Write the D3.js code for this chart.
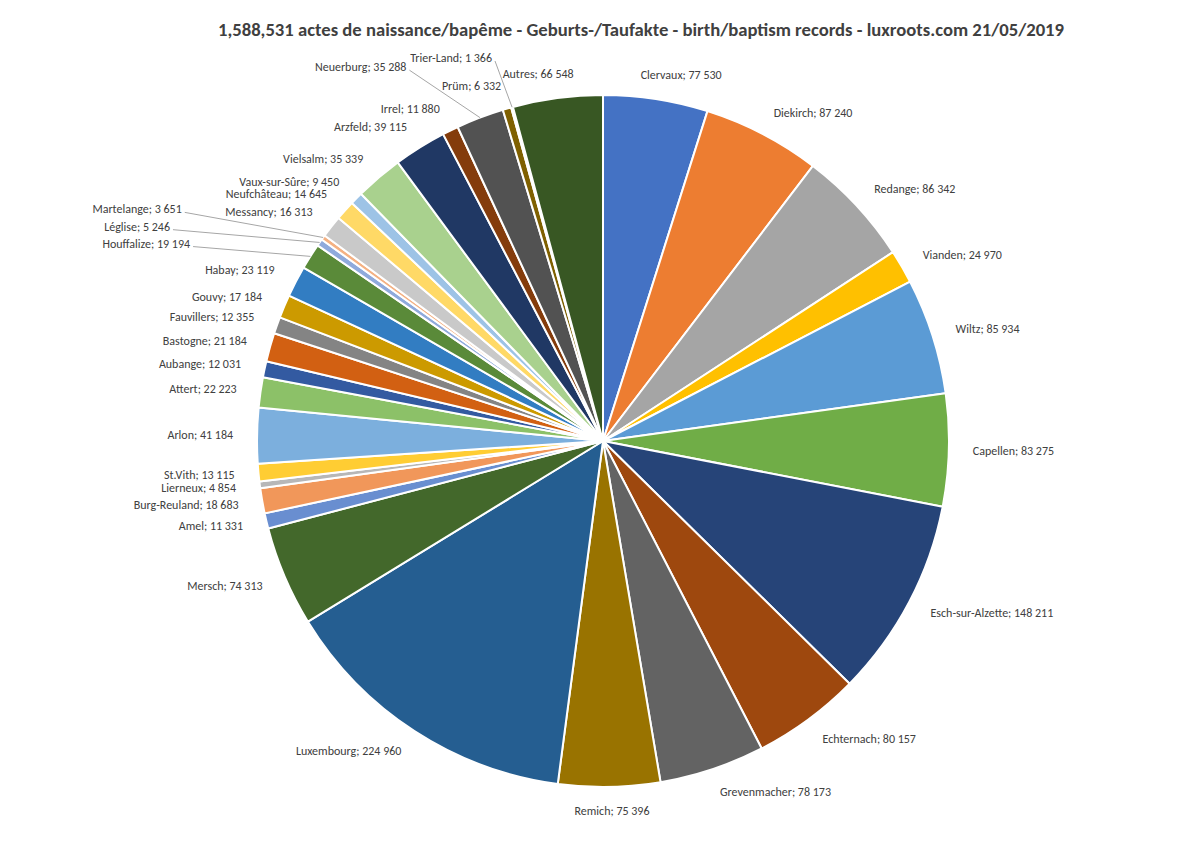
<!DOCTYPE html>
<html lang="fr">
<head>
<meta charset="utf-8">
<title>luxroots - actes de naissance / baptême</title>
<script src="https://d3js.org/d3.v7.min.js"></script>
<style>
    body { margin: 0; background: #ffffff; }
    .title {
        font-family: Calibri, Carlito, Lato, sans-serif;
        font-weight: bold;
        font-size: 18.67px;
        fill: #404040;
    }
    .lbl {
        font-family: Calibri, Carlito, Lato, sans-serif;
        font-size: 12px;
        fill: #404040;
    }
    .leader {
        stroke: #a6a6a6;
        stroke-width: 1;
        fill: none;
    }
</style>
</head>
<body>
<script>
// data (clockwise from 12 o'clock)
const regions = ["Clervaux", "Diekirch", "Redange", "Vianden", "Wiltz", "Capellen",
    "Esch-sur-Alzette", "Echternach", "Grevenmacher", "Remich", "Luxembourg", "Mersch",
    "Amel", "Burg-Reuland", "Lierneux", "St.Vith", "Arlon", "Attert", "Aubange", "Bastogne",
    "Fauvillers", "Gouvy", "Habay", "Houffalize", "Léglise", "Martelange", "Messancy",
    "Neufchâteau", "Vaux-sur-Sûre", "Vielsalm", "Arzfeld", "Irrel", "Neuerburg", "Prüm",
    "Trier-Land", "Autres"];
const records = [77530, 87240, 86342, 24970, 85934, 83275,
    148211, 80157, 78173, 75396, 224960, 74313,
    11331, 18683, 4854, 13115, 41184, 22223, 12031, 21184,
    12355, 17184, 23119, 19194, 5246, 3651, 16313,
    14645, 9450, 35339, 39115, 11880, 35288, 6332,
    1366, 66548];
// office palette, as excel cycles it for 36 points
const palette = ["#4472c4", "#ed7d31", "#a5a5a5", "#ffc000", "#5b9bd5", "#70ad47",
    "#264478", "#9e480e", "#636363", "#997300", "#255e91", "#43682b",
    "#698ed0", "#f1975a", "#b7b7b7", "#ffcd33", "#7cafdd", "#8cc168",
    "#335aa1", "#d26012", "#848484", "#cc9a00", "#327dc2", "#5a8a39",
    "#8faadc", "#f4b183", "#c9c9c9", "#ffd966", "#9dc3e6", "#a9d18e",
    "#203864", "#843c0c", "#525252", "#7f6000", "#1f4e79", "#385723"];
const chartTitle = "1,588,531 actes de naissance/bapême - Geburts-/Taufakte - birth/baptism records - luxroots.com 21/05/2019";

const width = 1204;
const height = 847;
const cx = 603, cy = 441;
const radius = 346;
const labelRadius = 370;
const boxH = 13;

const svg = d3.select("body")
    .append("svg")
    .attr("width", width)
    .attr("height", height);

svg.append("text")
    .attr("class", "title")
    .attr("x", 641)
    .attr("y", 36)
    .attr("text-anchor", "middle")
    .text(chartTitle);

const dataset = regions.map((r, i) => ({ name: r, value: records[i] }));

const pie = d3.pie().value(d => d.value).sort(null);
const arcs = pie(dataset);
const arc = d3.arc().innerRadius(0).outerRadius(radius);
const colour = d3.scaleOrdinal().domain(regions).range(palette);

const g = svg.append("g").attr("transform", "translate(" + cx + "," + cy + ")");

g.selectAll("path.slice")
    .data(arcs)
    .enter()
    .append("path")
    .attr("class", "slice")
    .attr("d", arc)
    .attr("fill", d => colour(d.data.name))
    .attr("stroke", "#ffffff")
    .attr("stroke-width", 2)
    .attr("stroke-linejoin", "round");

// 77530 -> "77 530"
const fmt = v => d3.format(",")(v).replace(/,/g, " ");

const leaderLayer = g.append("g");
const labels = g.selectAll("text.lbl")
    .data(arcs)
    .enter()
    .append("text")
    .attr("class", "lbl")
    .attr("text-anchor", "middle")
    .text(d => d.data.name + "; " + fmt(d.data.value));

// default spot: label touches the "outside end" point of its slice
const boxes = [];
labels.each(function (d) {
    const w = this.getComputedTextLength();
    const a = (d.startAngle + d.endAngle) / 2;
    const s = Math.sin(a), c = Math.cos(a);
    const hx = Math.max(-1, Math.min(1, s * 3.5));
    const x0 = labelRadius * s + hx * w / 2;
    const y0 = -labelRadius * c;
    boxes.push({ node: this, a: a, w: w, x0: x0, y0: y0, x: x0, y: y0, moved: false, placed: false });
});

// boxes touch when they overlap by more than -pad
function hit(p, q, pad) {
    const ox = Math.min(p.x + p.w / 2, q.x + q.w / 2) - Math.max(p.x - p.w / 2, q.x - q.w / 2);
    const oy = Math.min(p.y + boxH / 2, q.y + boxH / 2) - Math.max(p.y - boxH / 2, q.y - boxH / 2);
    return ox > -pad && oy > -pad;
}

function leaderOf(b) {
    const ex = radius * Math.sin(b.a), ey = -radius * Math.cos(b.a);
    const sx = ex < b.x ? b.x - b.w / 2 - 3 : b.x + b.w / 2 + 3;
    return [sx, b.y + 3, ex, ey];
}

function crosses(L, q) {
    for (let t = 0; t <= 1; t += 0.005) {
        const x = L[0] + (L[2] - L[0]) * t, y = L[1] + (L[3] - L[1]) * t;
        if (x > q.x - q.w / 2 && x < q.x + q.w / 2 && y > q.y - boxH / 2 && y < q.y + boxH / 2) return true;
    }
    return false;
}

// chains of colliding neighbours
const clusters = [];
let cur = [0];
for (let i = 1; i < boxes.length; i++) {
    if (cur.some(j => hit(boxes[i], boxes[j], -0.5))) cur.push(i);
    else { clusters.push(cur); cur = [i]; }
}
clusters.push(cur);

// on the sides the chain goes out to a column, near the top every other one is lifted
clusters.filter(cl => cl.length > 1).forEach(cl => {
    const first = boxes[cl[0]];
    const side = Math.abs(Math.sin(first.a)) >= Math.abs(Math.cos(first.a));
    cl.forEach((j, k) => {
        const fromEnd = cl.length - 1 - k;
        if (side ? fromEnd > 0 : fromEnd % 2 === 1) boxes[j].moved = true;
    });
});

let pass = 0, again = true;
while (again && pass++ < 12) {
    again = false;
    boxes.forEach(b => { b.x = b.x0; b.y = b.y0; b.placed = false; });
    const movedList = boxes.filter(b => b.moved);
    for (const b of movedList) {
        const s = Math.sin(b.a), c = Math.cos(b.a);
        const hx = s < 0 ? -1 : 1;
        const blockers = boxes.filter(o => o !== b && (!o.moved || !o.placed));
        let guard = 0;
        if (Math.abs(s) >= Math.abs(c)) {
            while (blockers.some(o => hit(b, o, 3)) && guard++ < 300) b.x += hx * 2;
            b.x += hx * 40;
            guard = 0;
            while (movedList.some(o => o.placed && hit(b, o, 3)) && guard++ < 100) b.y += hx * 2;
        } else {
            const vy = c > 0 ? -1 : 1;
            while (blockers.some(o => hit(b, o, 3)) && guard++ < 300) b.y += vy * 2;
        }
        // slide outwards until the leader line runs clear of other labels
        const others = boxes.filter(o => o !== b && (!o.moved || o.placed));
        const startX = b.x;
        let best = null, clear = false;
        for (let k = 0; k < 200; k++) {
            const hits = others.filter(o => crosses(leaderOf(b), o));
            if (!hits.length) { clear = true; break; }
            if (!best || hits.length < best.hits.length) best = { x: b.x, hits: hits };
            b.x += hx;
        }
        if (!clear) {
            b.x = startX;
            const kept = best.hits.filter(o => !o.moved);
            if (kept.length) {
                kept.forEach(o => { o.moved = true; });
                again = true;
                break;
            }
        }
        b.placed = true;
    }
}

boxes.forEach(b => {
    d3.select(b.node)
        .attr("x", b.x)
        .attr("y", b.y + 4);
    if (b.moved) {
        const L = leaderOf(b);
        leaderLayer.append("path")
            .attr("class", "leader")
            .attr("d", d3.line()([[L[0], L[1]], [L[2], L[3]]]));
    }
});
</script>
</body>
</html>
